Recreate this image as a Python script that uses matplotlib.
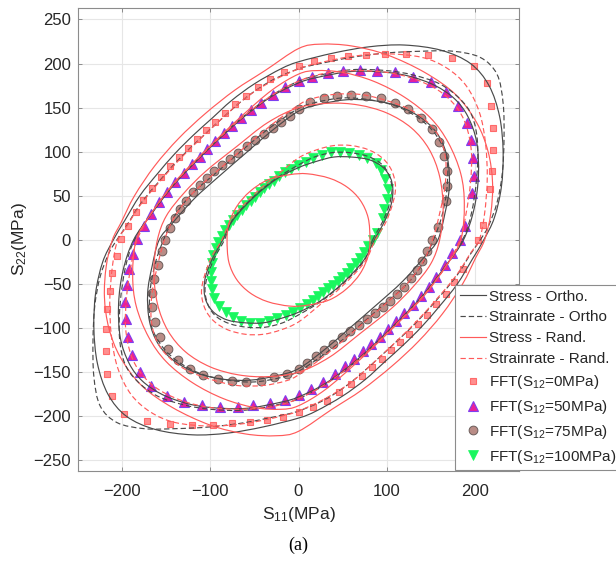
import numpy as np
import matplotlib
matplotlib.use("Agg")
import matplotlib.pyplot as plt
from matplotlib.path import Path
from matplotlib.patches import PathPatch
from matplotlib.lines import Line2D

plt.rcParams['font.family'] = ['Liberation Sans', 'DejaVu Sans']
plt.rcParams['mathtext.fontset'] = 'custom'
plt.rcParams['mathtext.rm'] = 'Liberation Sans'
plt.rcParams['mathtext.it'] = 'Liberation Sans:italic'

# ---------------- FFT results (S11, S22 in MPa) ----------------
fft0_x = [204, 209.5, 217, 219.7, 220.8, 220.8, 218.2, 213.3, 198.9, 173.9, 147, 121.6, 98.5, 76.9, 56.1, 36.4, 17.4, 0,
          -16.3, -32.2, -46.2, -59.5, -72, -83.3, -94.3, -104.9, -115.2, -125, -135.2, -145.8, -156.1, -165.9, -175.8,
          -184.8, -193.2, -200.8, -206.1, -211, -214, -216.7, -217.8, -218.2, -216.7, -211.7, -197.3, -172.3, -145.8,
          -120.5, -97.3, -75.4, -54.5, -35.6, -17.5, 0, 15.9, 31.8, 45.8, 59.1, 72, 83.3, 94.3, 104.9, 115.5, 125.8,
          136, 146.2, 156.1, 167.4, 176.5, 186.4]
fft0_y = [0, 17, 57.2, 78.4, 101.9, 126.9, 152.3, 178, 197.7, 206.4, 209.5, 210.6, 210.6, 209.5, 208.3, 206.1, 202.7,
          197.3, 190.5, 182.2, 173.1, 163.3, 153.8, 143.9, 134.1, 124.2, 114.8, 104.5, 94.3, 83.3, 71.2, 59.1, 45.8,
          32.2, 16.3, 1.1, -17.8, -37.1, -57.6, -78.8, -101.5, -125.8, -151.5, -177.3, -197, -205.7, -208.7, -209.5,
          -209.9, -208, -206.4, -204.2, -200.5, -195, -189.4, -182.2, -172.7, -163.3, -153.8, -143.9, -134.5, -125,
          -115.9, -106.1, -95.8, -84.8, -73.1, -61.4, -47.3, -33.3]

fft50_x = [182.6, 188.6, 197, 198.9, 197.7, 195.5, 190.5, 181.4, 167.8, 150, 129.9, 109.1, 89, 69.3, 50.8, 33, 15.5, 0,
           -14.8, -29.2, -42, -53.8, -64.8, -75, -84.8, -94.3, -103.4, -112.1, -121.2, -130.3, -139.8, -148.9, -158,
           -166.7, -175, -182.6, -187.5, -192.4, -194.7, -196.2, -195.8, -193.2, -188.3, -179.9, -166.7, -149.6,
           -129.5, -109.1, -88.6, -68.9, -51.1, -32.6, -15.5, 0, 14.4, 28, 40.9, 52.3, 62.9, 73.1, 82.6, 92, 101.5,
           110.6, 119.7, 129.5, 138.6, 147.7, 156.4, 165.9, 174.2]
fft50_y = [0, 16.3, 53.4, 72.3, 92.4, 113.3, 133, 151.9, 167.4, 179.2, 185.2, 190.2, 192, 192.4, 191.7, 189.4, 185.2,
           180.3, 173.1, 164.8, 155.7, 147, 138.3, 129.5, 120.8, 112.1, 103, 94.3, 85.6, 75.8, 65.2, 54.5, 42.8, 29.9,
           15.5, 1.1, -16.3, -33, -51.1, -70.1, -90.2, -110.6, -130.7, -149.6, -165.9, -176.9, -183.7, -187.5, -189.4,
           -189.4, -187.5, -184.5, -181.4, -175.3, -168.6, -161, -151.9, -143.2, -134.5, -126.1, -117.8, -109.5,
           -100.8, -92.4, -83.3, -73.9, -63.6, -53.4, -42.4, -28.4, -15.2]

fft75_x = [151, 158.3, 167, 168.9, 168.2, 164.8, 159.1, 150.8, 138.6, 124.2, 109.5, 93.2, 76.5, 59.5, 43.6, 28.4, 13.3,
           0, -10, -20, -29, -39, -49, -58.7, -68.2, -78, -87, -95.8, -103.8, -111.7, -119.7, -127, -134, -140.5, -146,
           -151, -155.3, -159.8, -163.6, -165.9, -165.9, -162.9, -156.8, -147.7, -136.4, -123.1, -108, -91.7, -75.4,
           -59.1, -42.8, -27.3, -13.3, 0, 10, 20, 29, 39, 49, 58.7, 68.2, 78, 87.1, 95.8, 103.8, 111.7, 119.7, 127,
           134, 140.5, 146]
fft75_y = [0, 14.4, 44, 61.4, 78, 94.7, 110.6, 125.4, 138.3, 148.5, 155.7, 160.6, 163.3, 164, 163.3, 161, 156.1, 148,
           141, 134, 127, 120, 113, 106, 99, 92, 85, 78, 70, 62, 54, 44.5, 35, 24.5, 13, 0, -12.5, -28.4, -44.3, -60.6,
           -76.5, -93.6, -109.8, -123.9, -136.7, -146.6, -153.4, -157.9, -160.2, -161, -159.5, -155.7, -151.5, -145.8,
           -139, -132, -125, -118, -110.5, -103.5, -97, -90.2, -83.3, -76, -69, -61, -53, -43.6, -34, -24, -12.5]

fft100_x = [84.1, 88.6, 96.2, 97, 100.8, 101.1, 98.1, 93.2, 87.9, 77.3, 68.2, 57.6, 47, 36.4, 26.1, 16.7, 8, -0.4, -8,
            -15.5, -22, -27.7, -33.3, -38.6, -43.9, -49.2, -54.2, -59.1, -64.4, -69.3, -74.2, -78.8, -83, -87.1, -90.9,
            -93.9, -97, -98.5, -99.6, -99.2, -98.1, -95.5, -90.2, -82.6, -74.2, -64.8, -55.3, -43.9, -33.7, -24.2,
            -14.4, -6.1, 1.5, 9.1, 15.9, 22.3, 28, 33.7, 39.4, 44.3, 49.6, 54.5, 59.5, 64.8, 69.7, 74.2, 79.2]
fft100_y = [0, 8.3, 25.4, 35.6, 46.6, 57.6, 68.9, 78.8, 87.1, 92.8, 96.6, 98.5, 99.6, 99.2, 96.6, 92.8, 88.3, 84.8, 80.7,
            76.5, 72, 67.4, 62.9, 58.7, 54.2, 49.2, 44.3, 39.4, 34.1, 28.4, 22.7, 17, 11.4, 4.9, -2.3, -9.5, -17, -25.8,
            -36, -46.2, -56.1, -65.5, -74.6, -81.4, -87.1, -91.7, -93.9, -93.9, -91.7, -89, -85.2, -81.4, -76.9, -72.3,
            -67.8, -63.3, -59.1, -54.9, -50.8, -46.2, -41.7, -37.1, -32.2, -26.5, -20.8, -13.3, -6.8]

# ---------------- Model yield loci (closed loops, S11 / S22 in MPa) ----------------
# S12 = 0 MPa
stress_ortho_0_x = [210, 222, 230, 232, 228, 216, 195, 162, 120, 80, 40, 0, -20, -50, -76, -98, -119, -140, -160, -180, -197,
                    -210, -222, -230, -232, -228, -216, -195, -162, -120, -80, -40, 0, 20, 50, 76, 98, 119, 140, 160, 180, 197]
stress_ortho_0_y = [0, 25, 60, 100, 140, 175, 200, 215, 221, 219, 212, 202, 194, 177, 158, 138, 119, 98, 75, 50, 22,
                    0, -25, -60, -100, -140, -175, -200, -215, -221, -219, -212, -202, -194, -177, -158, -138, -119, -98, -75, -50, -22]
rate_ortho_0_x = [206, 215, 225, 231, 233, 232, 225, 206, 175, 140, 100, 60, 20, 0, -30, -60, -94, -136, -176, -195,
                  -206, -215, -225, -231, -233, -232, -225, -206, -175, -140, -100, -60, -20, 0, 30, 60, 94, 136, 176, 195]
rate_ortho_0_y = [0, 15, 42, 75, 114, 155, 188, 207, 214, 214, 212, 207, 199, 194, 181, 161, 131, 91, 45, 16,
                  0, -15, -42, -75, -114, -155, -188, -207, -214, -214, -212, -207, -199, -194, -181, -161, -131, -91, -45, -16]
stress_rand_0_x = [211, 218, 220, 215, 202, 178, 143, 100, 60, 25, 0, -38, -72, -106, -136, -163, -186, -201,
                   -211, -218, -220, -215, -202, -178, -143, -100, -60, -25, 0, 38, 72, 106, 136, 163, 186, 201]
stress_rand_0_y = [0, 30, 65, 100, 133, 165, 190, 210, 220, 222, 217, 192, 170, 143, 115, 84, 50, 20,
                   0, -30, -65, -100, -133, -165, -190, -210, -220, -222, -217, -192, -170, -143, -115, -84, -50, -20]
rate_rand_0_x = [205, 211, 214, 212, 205, 190, 168, 140, 100, 60, 20, 0, -30, -60, -94, -136, -176, -195,
                 -205, -211, -214, -212, -205, -190, -168, -140, -100, -60, -20, 0, 30, 60, 94, 136, 176, 195]
rate_rand_0_y = [0, 30, 70, 110, 145, 175, 195, 207, 211, 208, 200, 194, 180, 161, 131, 90, 44, 15,
                 0, -30, -70, -110, -145, -175, -195, -207, -211, -208, -200, -194, -180, -161, -131, -90, -44, -15]

# S12 = 50 MPa
stress_ortho_50_x = [187, 199, 204, 202, 192, 177, 155, 128, 100, 60, 20, 0, -30, -65, -103, -140, -167,
                     -187, -199, -204, -202, -192, -177, -155, -128, -100, -60, -20, 0, 30, 65, 103, 140, 167]
stress_ortho_50_y = [0, 35, 73, 111, 140, 160, 175, 185, 190, 191, 184, 178, 163, 137, 102, 64, 29,
                     0, -35, -73, -111, -140, -160, -175, -185, -190, -191, -184, -178, -163, -137, -102, -64, -29]
rate_ortho_50_x = [186, 196, 202, 203, 197, 183, 160, 130, 100, 60, 20, 0, -30, -65, -103, -140, -167,
                   -186, -196, -202, -203, -197, -183, -160, -130, -100, -60, -20, 0, 30, 65, 103, 140, 167]
rate_ortho_50_y = [0, 30, 70, 110, 140, 160, 177, 187, 192, 193, 186, 180, 164, 138, 103, 65, 30,
                   0, -30, -70, -110, -140, -160, -177, -187, -192, -193, -186, -180, -164, -138, -103, -65, -30]
stress_rand_50_x = [184, 188, 184, 170, 150, 120, 85, 50, 20, 0, -30, -65, -103, -140, -167,
                    -184, -188, -184, -170, -150, -120, -85, -50, -20, 0, 30, 65, 103, 140, 167]
stress_rand_50_y = [0, 40, 75, 110, 138, 162, 180, 190, 192, 188, 170, 140, 104, 66, 30,
                    0, -40, -75, -110, -138, -162, -180, -190, -192, -188, -170, -140, -104, -66, -30]
rate_rand_50_x = [183, 190, 195, 196, 190, 178, 158, 130, 100, 65, 30, 0, -30, -65, -103, -140, -167,
                  -183, -190, -195, -196, -190, -178, -158, -130, -100, -65, -30, 0, 30, 65, 103, 140, 167]
rate_rand_50_y = [0, 30, 65, 100, 130, 152, 170, 183, 190, 192, 189, 180, 164, 138, 103, 65, 30,
                  0, -30, -65, -100, -130, -152, -170, -183, -190, -192, -189, -180, -164, -138, -103, -65, -30]

# S12 = 75 MPa
stress_ortho_75_x = [158, 166, 171, 169, 159, 141, 115, 85, 55, 25, 0, -30, -58, -88, -118, -143,
                     -158, -166, -171, -169, -159, -141, -115, -85, -55, -25, 0, 30, 58, 88, 118, 143]
stress_ortho_75_y = [0, 30, 60, 92, 118, 137, 151, 158, 159, 154, 146, 124, 100, 74, 47, 19,
                     0, -30, -60, -92, -118, -137, -151, -158, -159, -154, -146, -124, -100, -74, -47, -19]
rate_ortho_75_x = [153, 162, 168, 169, 164, 152, 135, 110, 80, 50, 20, 0, -30, -60, -90, -120, -140,
                   -153, -162, -168, -169, -164, -152, -135, -110, -80, -50, -20, 0, 30, 60, 90, 120, 140]
rate_ortho_75_y = [0, 25, 55, 85, 105, 124, 139, 152, 159, 161, 156, 149, 129, 105, 79, 53, 28,
                   0, -25, -55, -85, -105, -124, -139, -152, -159, -161, -156, -149, -129, -105, -79, -53, -28]
stress_rand_75_x = [160, 164, 160, 148, 128, 100, 68, 35, 0, -35, -70, -105, -130, -150,
                    -160, -164, -160, -148, -128, -100, -68, -35, 0, 35, 70, 105, 130, 150]
stress_rand_75_y = [0, 35, 72, 103, 127, 144, 153, 155, 150, 133, 106, 78, 53, 27,
                    0, -35, -72, -103, -127, -144, -153, -155, -150, -133, -106, -78, -53, -27]
rate_rand_75_x = [152, 160, 166, 167, 161, 148, 128, 100, 70, 40, 15, 0, -30, -60, -90, -120, -140,
                  -152, -160, -166, -167, -161, -148, -128, -100, -70, -40, -15, 0, 30, 60, 90, 120, 140]
rate_rand_75_y = [0, 30, 60, 90, 114, 132, 147, 158, 165, 165, 160, 153, 131, 106, 80, 53, 27,
                  0, -30, -60, -90, -114, -132, -147, -158, -165, -165, -160, -153, -131, -106, -80, -53, -27]

# S12 = 100 MPa
stress_ortho_100_x = [86, 97, 105, 107, 104, 95, 80, 60, 40, 20, 0, -25, -50, -74,
                      -86, -97, -105, -107, -104, -95, -80, -60, -40, -20, 0, 25, 50, 74]
stress_ortho_100_y = [0, 20, 40, 57, 71, 83, 91, 94, 94, 89, 82, 69, 49, 23,
                      0, -20, -40, -57, -71, -83, -91, -94, -94, -89, -82, -69, -49, -23]
rate_ortho_100_x = [84, 95, 103, 106, 102, 93, 78, 58, 38, 18, 0, -25, -50, -74,
                    -84, -95, -103, -106, -102, -93, -78, -58, -38, -18, 0, 25, 50, 74]
rate_ortho_100_y = [0, 20, 40, 58, 75, 87, 95, 99, 99, 94, 85, 70, 50, 24,
                    0, -20, -40, -58, -75, -87, -95, -99, -99, -94, -85, -70, -50, -24]
stress_rand_100_x = [81, 79, 70, 55, 35, 10, -10, -35, -55, -70, -79,
                     -81, -79, -70, -55, -35, -10, 10, 35, 55, 70, 79]
stress_rand_100_y = [0, 25, 45, 60, 70, 75, 74, 68, 55, 38, 18,
                     0, -25, -45, -60, -70, -75, -74, -68, -55, -38, -18]
rate_rand_100_x = [87, 99, 107, 110, 106, 96, 80, 60, 40, 20, 0, -25, -50, -75,
                   -87, -99, -107, -110, -106, -96, -80, -60, -40, -20, 0, 25, 50, 75]
rate_rand_100_y = [0, 20, 42, 60, 78, 92, 102, 107, 107, 102, 93, 73, 52, 25,
                   0, -20, -42, -60, -78, -92, -102, -107, -107, -102, -93, -73, -52, -25]

x_ticks = [-200, -100, 0, 100, 200]
y_ticks = [-250, -200, -150, -100, -50, 0, 50, 100, 150, 200, 250]

legend_labels = ['Stress - Ortho.', 'Strainrate - Ortho', 'Stress - Rand.', 'Strainrate - Rand.',
                 'FFT(S$_{\\mathregular{12}}$=0MPa)', 'FFT(S$_{\\mathregular{12}}$=50MPa)',
                 'FFT(S$_{\\mathregular{12}}$=75MPa)', 'FFT(S$_{\\mathregular{12}}$=100MPa)']

# ---------------- styles ----------------
GRAY = '#4a4a4a'
RED = '#ff5a5a'
DASH = (0, (4.5, 2.5))
LW = 0.85

line_styles = {
    'stress_ortho': dict(edgecolor=GRAY, linestyle='-'),
    'rate_ortho': dict(edgecolor=GRAY, linestyle=DASH),
    'stress_rand': dict(edgecolor=RED, linestyle='-'),
    'rate_rand': dict(edgecolor=RED, linestyle=DASH),
}

curves = [
    ('stress_ortho', stress_ortho_0_x, stress_ortho_0_y), ('rate_ortho', rate_ortho_0_x, rate_ortho_0_y),
    ('stress_rand', stress_rand_0_x, stress_rand_0_y), ('rate_rand', rate_rand_0_x, rate_rand_0_y),
    ('stress_ortho', stress_ortho_50_x, stress_ortho_50_y), ('rate_ortho', rate_ortho_50_x, rate_ortho_50_y),
    ('stress_rand', stress_rand_50_x, stress_rand_50_y), ('rate_rand', rate_rand_50_x, rate_rand_50_y),
    ('stress_ortho', stress_ortho_75_x, stress_ortho_75_y), ('rate_ortho', rate_ortho_75_x, rate_ortho_75_y),
    ('stress_rand', stress_rand_75_x, stress_rand_75_y), ('rate_rand', rate_rand_75_x, rate_rand_75_y),
    ('stress_ortho', stress_ortho_100_x, stress_ortho_100_y), ('rate_ortho', rate_ortho_100_x, rate_ortho_100_y),
    ('stress_rand', stress_rand_100_x, stress_rand_100_y), ('rate_rand', rate_rand_100_x, rate_rand_100_y),
]

marker_sets = [
    (fft0_x, fft0_y, dict(marker='s', ms=5.0, mfc='#ff8f8f', mec='#ff6a6a', mew=0.8)),
    (fft50_x, fft50_y, dict(marker='^', ms=6.5, mfc='#e8209a', mec='#7d3ff0', mew=0.8)),
    (fft75_x, fft75_y, dict(marker='o', ms=6.3, mfc='#b98c86', mec='#6a5c5a', mew=0.7)),
    (fft100_x, fft100_y, dict(marker='v', ms=6.5, mfc='#19f75f', mec='#19f75f', mew=0.5)),
]


def smooth_closed_path(xs, ys):
    """Closed Catmull-Rom loop through the given points, expressed as cubic Bezier segments."""
    p = np.column_stack([xs, ys]).astype(float)
    n = len(p)
    verts = [p[0]]
    codes = [Path.MOVETO]
    for i in range(n):
        p0, p1, p2, p3 = p[i - 1], p[i], p[(i + 1) % n], p[(i + 2) % n]
        verts += [p1 + (p2 - p0) / 6.0, p2 - (p3 - p1) / 6.0, p2]
        codes += [Path.CURVE4] * 3
    return Path(verts, codes)


W, H = 616, 562
fig = plt.figure(figsize=(W / 100, H / 100), dpi=100)
ax = fig.add_axes([78 / W, 1 - 471 / H, 441 / W, 463 / H])

for x, y, st in marker_sets:
    ax.plot(x, y, linestyle='none', zorder=3, **st)

for kind, x, y in curves:
    ax.add_patch(PathPatch(smooth_closed_path(x, y), fill=False, lw=LW, zorder=4, **line_styles[kind]))

ax.set_xlim(-250, 250)
ax.set_ylim(-262, 263)
ax.set_xticks(x_ticks)
ax.set_yticks(y_ticks)
ax.grid(True, color='#e6e6e6', lw=0.8)
ax.set_axisbelow(True)
for s in ax.spines.values():
    s.set_color('#8c8c8c')
    s.set_linewidth(0.8)
ax.tick_params(direction='in', length=3, width=0.7, color='#8c8c8c', labelsize=12,
               labelcolor='#262626', top=True, right=True)
ax.tick_params(axis='x', pad=9)
ax.tick_params(axis='y', pad=5)

ax.set_xlabel('S$_{\\mathregular{11}}$(MPa)', fontsize=12.5, color='#262626', labelpad=5)
ax.set_ylabel('S$_{\\mathregular{22}}$(MPa)', fontsize=12.5, color='#262626', labelpad=3)

fig.text(298 / W, 1 - 545 / H, '(a)', ha='center', va='center', fontsize=13,
         family=['Liberation Serif', 'DejaVu Serif'], color='black')

handles = [Line2D([], [], color=GRAY, lw=LW, ls='-'),
           Line2D([], [], color=GRAY, lw=LW, ls=DASH),
           Line2D([], [], color=RED, lw=LW, ls='-'),
           Line2D([], [], color=RED, lw=LW, ls=DASH)]
for _, _, st in marker_sets:
    handles.append(Line2D([], [], linestyle='none', **st))

leg = fig.legend(handles, legend_labels, loc='upper left', bbox_to_anchor=(455 / W, 1 - 285 / H),
                 bbox_transform=fig.transFigure, borderaxespad=0, fontsize=11, frameon=True,
                 fancybox=False, edgecolor='#8c8c8c', framealpha=1, borderpad=0.3,
                 labelspacing=0.45, handlelength=1.75, handletextpad=0.15, numpoints=1)
leg.get_frame().set_linewidth(0.8)
for t in leg.get_texts():
    t.set_color('#262626')

fig.savefig('out.png', dpi=100)
